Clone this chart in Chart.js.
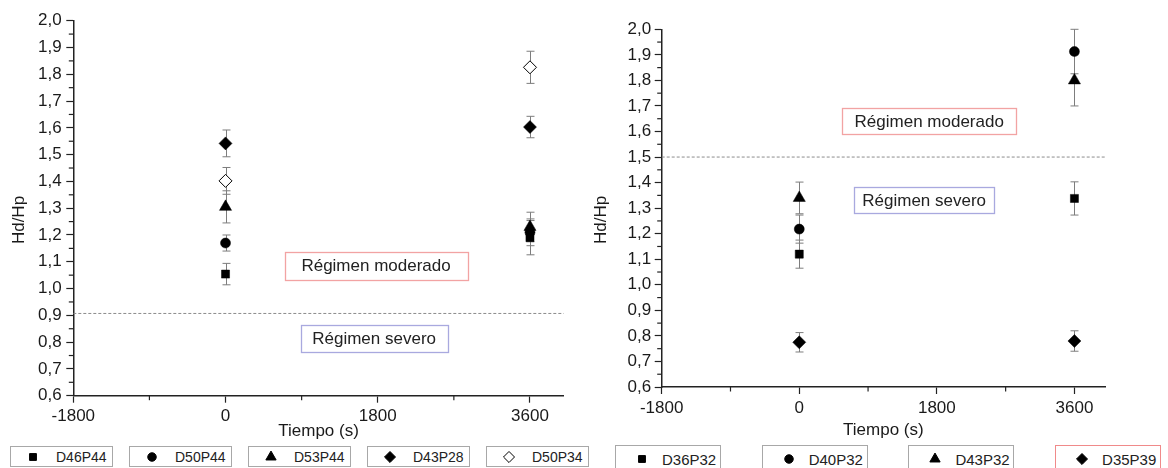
<!DOCTYPE html>
<html lang="es">
<head>
    <meta charset="UTF-8">
    <title>Hd/Hp frente a tiempo</title>
    <script src="https://cdn.jsdelivr.net/npm/chart.js"></script>
    <style>
        body {
            margin: 0;
            width: 1168px;
            height: 468px;
            overflow: hidden;
            background: #fff;
            font-family: 'Liberation Sans', Arial, sans-serif;
        }
        .panel {
            position: absolute;
            top: 0;
            height: 468px;
            overflow: hidden;
        }
        #panelIzq { left: 0; width: 592px; }
        #panelDer { left: 592px; width: 576px; }
        .panel canvas.grafico { position: absolute; left: 0; top: 0; }
        .leyenda-item {
            position: absolute;
            box-sizing: border-box;
            border: 1px solid #a8a8a8;
            background: #fff;
            color: #222;
            white-space: nowrap;
        }
        .leyenda-item canvas { position: absolute; top: 50%; transform: translate(-50%, -50%); }
        .leyenda-item span { position: absolute; top: 50%; transform: translateY(-50%); }
    </style>
</head>
<body>
    <div class="panel" id="panelIzq">
        <canvas class="grafico" id="graficoIzq" width="592" height="445"></canvas>
    </div>
    <div class="panel" id="panelDer">
        <canvas class="grafico" id="graficoDer" width="576" height="445"></canvas>
    </div>

    <script>
        Chart.defaults.font.family = "'Liberation Sans', Arial, sans-serif";
        Chart.defaults.color = '#222';

        // ---- datos comunes ----
        const tiempos = [0, 3600]; // s
        const xEtiquetas = ['-1800', '0', '1800', '3600'];
        const yEtiquetas = ['0,6', '0,7', '0,8', '0,9', '1,0', '1,1', '1,2', '1,3', '1,4', '1,5', '1,6', '1,7', '1,8', '1,9', '2,0'];

        // ---- panel izquierdo ----
        const seriesIzq = ['D46P44', 'D50P44', 'D53P44', 'D43P28', 'D50P34'];
        const hdD46P44 = [1.054, 1.19];
        const errD46P44 = [0.04, 0.064];
        const hdD50P44 = [1.17, 1.21];
        const errD50P44 = [0.03, 0.05];
        const hdD53P44 = [1.305, 1.23];
        const errD53P44 = [0.06, 0.055];
        const hdD43P28 = [1.542, 1.603];
        const errD43P28 = [0.05, 0.04];
        const hdD50P34 = [1.402, 1.826];
        const errD50P34 = [0.05, 0.06];
        const limiteIzq = 0.907;

        // ---- panel derecho ----
        const seriesDer = ['D36P32', 'D40P32', 'D43P32', 'D35P39'];
        const hdD36P32 = [1.12, 1.338];
        const errD36P32 = [0.055, 0.065];
        const hdD40P32 = [1.218, 1.913];
        const errD40P32 = [0.055, 0.087];
        const hdD43P32 = [1.34, 1.80];
        const errD43P32 = [0.062, 0.1];
        const hdD35P39 = [0.775, 0.78];
        const errD35P39 = [0.038, 0.04];
        const limiteDer = 1.5;

        // estilos de marcador
        const marcadores = {
            cuadrado: { pointStyle: 'rect', radius: 5.7, relleno: '#000' },
            circulo: { pointStyle: 'circle', radius: 5, relleno: '#000' },
            triangulo: { pointStyle: 'triangle', radius: 7, relleno: '#000' },
            rombo: { pointStyle: 'rectRot', radius: 6.5, relleno: '#000' },
            romboAbierto: { pointStyle: 'rectRot', radius: 6.5, relleno: '#fff' }
        };

        function marcasDesde(etiquetas) {
            const mayores = etiquetas.map(t => parseFloat(t.replace(',', '.')));
            const lista = [];
            mayores.forEach((v, i) => {
                lista.push({ value: v, etiqueta: etiquetas[i] });
                if (i < mayores.length - 1) lista.push({ value: (v + mayores[i + 1]) / 2, menor: true });
            });
            return lista;
        }

        function serie(nombre, valores, errores, estilo) {
            const m = marcadores[estilo];
            return {
                label: nombre,
                data: tiempos.map((t, i) => ({ x: t, y: valores[i] })),
                errores: errores,
                pointStyle: m.pointStyle,
                pointRadius: m.radius,
                pointBackgroundColor: m.relleno,
                pointBorderColor: '#000',
                pointBorderWidth: estilo === 'romboAbierto' ? 1 : 0.5,
                showLine: false
            };
        }

        function lineaLimite(valor) {
            return {
                type: 'line',
                label: 'limite',
                data: [{ x: -1800, y: valor }, { x: 4000, y: valor }],
                borderColor: '#8c8c8c',
                borderWidth: 1,
                borderDash: [3, 2],
                pointRadius: 0,
                fill: false
            };
        }

        // barras de error (detras de los marcadores)
        const barrasError = {
            id: 'barrasError',
            beforeDatasetsDraw(chart) {
                const { ctx, scales: { x, y } } = chart;
                ctx.save();
                ctx.strokeStyle = '#7d7d7d';
                ctx.lineWidth = 1;
                chart.data.datasets.forEach(ds => {
                    if (!ds.errores) return;
                    ds.data.forEach((p, i) => {
                        const e = ds.errores[i];
                        const px = Math.round(x.getPixelForValue(p.x)) + 0.5;
                        const y1 = y.getPixelForValue(p.y + e);
                        const y2 = y.getPixelForValue(p.y - e);
                        ctx.beginPath();
                        ctx.moveTo(px, y1); ctx.lineTo(px, y2);
                        ctx.moveTo(px - 4, y1); ctx.lineTo(px + 4, y1);
                        ctx.moveTo(px - 4, y2); ctx.lineTo(px + 4, y2);
                        ctx.stroke();
                    });
                });
                ctx.restore();
            }
        };

        // marcas menores, mas cortas que las mayores
        const marcasMenores = {
            id: 'marcasMenores',
            afterDraw(chart) {
                const ctx = chart.ctx;
                ctx.save();
                ctx.strokeStyle = '#222';
                ctx.lineWidth = 1.2;
                const sx = chart.scales.x, sy = chart.scales.y;
                sx.ticks.forEach(t => {
                    if (!t.menor) return;
                    const px = sx.getPixelForValue(t.value);
                    ctx.beginPath(); ctx.moveTo(px, sx.top); ctx.lineTo(px, sx.top + 4.5); ctx.stroke();
                });
                sy.ticks.forEach(t => {
                    if (!t.menor) return;
                    const py = sy.getPixelForValue(t.value);
                    ctx.beginPath(); ctx.moveTo(sy.right - 4.5, py); ctx.lineTo(sy.right, py); ctx.stroke();
                });
                ctx.restore();
            }
        };

        // recuadros de texto "Régimen ..."
        const recuadros = {
            id: 'recuadros',
            afterDatasetsDraw(chart, args, opts) {
                const { ctx, scales: { x, y } } = chart;
                (opts.items || []).forEach(a => {
                    const cx = x.getPixelForValue(a.x);
                    const cy = y.getPixelForValue(a.y);
                    const l = Math.round(cx - a.ancho / 2) + 0.5;
                    const t = Math.round(cy - a.alto / 2) + 0.5;
                    ctx.save();
                    ctx.fillStyle = '#fff';
                    ctx.fillRect(l, t, a.ancho, a.alto);
                    ctx.strokeStyle = a.borde;
                    ctx.lineWidth = 1.3;
                    ctx.strokeRect(l, t, a.ancho, a.alto);
                    ctx.font = "17px 'Liberation Sans', Arial, sans-serif";
                    ctx.fillStyle = '#222';
                    ctx.textAlign = 'center';
                    ctx.textBaseline = 'middle';
                    ctx.fillText(a.texto, cx, cy + 1);
                    ctx.restore();
                });
            }
        };

        function crearPanel(idCanvas, datasets, d) {
            const colorMarca = c => (c.tick && c.tick.menor) ? 'rgba(0,0,0,0)' : '#222';
            return new Chart(document.getElementById(idCanvas), {
                type: 'scatter',
                data: { datasets: datasets },
                plugins: [barrasError, marcasMenores, recuadros],
                options: {
                    responsive: false,
                    animation: false,
                    devicePixelRatio: 1,
                    layout: { padding: { top: d.arriba, right: d.derecha, left: 0, bottom: 0 } },
                    plugins: {
                        legend: { display: false },
                        tooltip: { enabled: false },
                        recuadros: { items: d.recuadros }
                    },
                    scales: {
                        x: {
                            type: 'linear',
                            min: -1800,
                            max: 4000,
                            bounds: 'data',
                            afterBuildTicks: s => { s.ticks = marcasDesde(xEtiquetas); },
                            afterFit: s => { s.height = d.altoX; },
                            ticks: {
                                autoSkip: false,
                                maxRotation: 0,
                                padding: d.padX,
                                font: { size: 17, lineHeight: 1 },
                                color: '#1a1a1a',
                                callback: (v, i, ts) => ts[i].menor ? '' : ts[i].etiqueta
                            },
                            grid: { drawOnChartArea: false, tickLength: 7, tickWidth: 1.2, tickColor: colorMarca },
                            border: { color: '#222', width: 1.5 },
                            title: {
                                display: true,
                                text: 'Tiempo (s)',
                                color: '#1a1a1a',
                                font: { size: 17, lineHeight: 1 },
                                padding: { top: 0, bottom: d.tituloX }
                            }
                        },
                        y: {
                            type: 'linear',
                            min: 0.6,
                            max: 2.0,
                            bounds: 'data',
                            afterBuildTicks: s => { s.ticks = marcasDesde(yEtiquetas); },
                            afterFit: s => { s.width = d.anchoY; },
                            ticks: {
                                autoSkip: false,
                                padding: d.padY,
                                font: { size: 17, lineHeight: 1 },
                                color: '#1a1a1a',
                                callback: (v, i, ts) => ts[i].menor ? '' : ts[i].etiqueta
                            },
                            grid: { drawOnChartArea: false, tickLength: 7, tickWidth: 1.2, tickColor: colorMarca },
                            border: { color: '#222', width: 1.5 },
                            title: {
                                display: true,
                                text: 'Hd/Hp' + '\u00a0'.repeat(5),
                                color: '#1a1a1a',
                                font: { size: 17, lineHeight: 1 },
                                padding: { top: d.tituloY, bottom: 0 }
                            }
                        }
                    }
                }
            });
        }

        function crearLeyenda(idPanel, nombres, estilos, disp) {
            const panel = document.getElementById(idPanel);
            const dibujar = Chart.helpers && Chart.helpers.drawPoint;
            nombres.forEach((nombre, i) => {
                const caja = document.createElement('div');
                caja.className = 'leyenda-item';
                caja.style.left = (disp.x0 + i * disp.paso) + 'px';
                caja.style.top = disp.arriba + 'px';
                caja.style.width = disp.ancho + 'px';
                caja.style.height = disp.alto + 'px';
                caja.style.fontSize = disp.fuente + 'px';
                if (disp.bordes && disp.bordes[i]) caja.style.borderColor = disp.bordes[i];

                const m = marcadores[estilos[i]];
                const lienzo = document.createElement('canvas');
                lienzo.width = 18; lienzo.height = 18;
                lienzo.style.left = disp.simbolo + 'px';
                const c = lienzo.getContext('2d');
                c.fillStyle = m.relleno;
                c.strokeStyle = '#000';
                c.lineWidth = 1;
                if (dibujar) {
                    dibujar(c, { pointStyle: m.pointStyle, radius: m.radius * 0.85, rotation: 0, borderWidth: 1 }, 9, 9);
                }
                caja.appendChild(lienzo);

                const txt = document.createElement('span');
                txt.textContent = nombre;
                txt.style.left = disp.texto + 'px';
                caja.appendChild(txt);
                panel.appendChild(caja);
            });
        }

        const estilosIzq = ['cuadrado', 'circulo', 'triangulo', 'rombo', 'romboAbierto'];
        const estilosDer = ['cuadrado', 'circulo', 'triangulo', 'rombo'];

        crearPanel('graficoIzq', [
            serie(seriesIzq[0], hdD46P44, errD46P44, estilosIzq[0]),
            serie(seriesIzq[1], hdD50P44, errD50P44, estilosIzq[1]),
            serie(seriesIzq[2], hdD53P44, errD53P44, estilosIzq[2]),
            serie(seriesIzq[3], hdD43P28, errD43P28, estilosIzq[3]),
            serie(seriesIzq[4], hdD50P34, errD50P34, estilosIzq[4]),
            lineaLimite(limiteIzq)
        ], {
            arriba: 20.7, derecha: 28.2, altoX: 49.3, anchoY: 73.3,
            padX: 5, padY: 4.6, tituloX: 4.8, tituloY: 10.8,
            recuadros: [
                { texto: 'Régimen moderado', x: 1780, y: 1.085, ancho: 183, alto: 28, borde: '#f2a3a3' },
                { texto: 'Régimen severo', x: 1757, y: 0.815, ancho: 147, alto: 27, borde: '#a9a9df' }
            ]
        });

        crearPanel('graficoDer', [
            serie(seriesDer[0], hdD36P32, errD36P32, estilosDer[0]),
            serie(seriesDer[1], hdD40P32, errD40P32, estilosDer[1]),
            serie(seriesDer[2], hdD43P32, errD43P32, estilosDer[2]),
            serie(seriesDer[3], hdD35P39, errD35P39, estilosDer[3]),
            lineaLimite(limiteDer)
        ], {
            arriba: 29.3, derecha: 63, altoX: 58, anchoY: 69.7,
            padX: 5.8, padY: 3.5, tituloX: 5.8, tituloY: 0.5,
            recuadros: [
                { texto: 'Régimen moderado', x: 1700, y: 1.64, ancho: 174, alto: 26, borde: '#f2a3a3' },
                { texto: 'Régimen severo', x: 1634, y: 1.332, ancho: 140, alto: 26, borde: '#a9a9df' }
            ]
        });

        crearLeyenda('panelIzq', seriesIzq, estilosIzq,
            { x0: 10, paso: 119, arriba: 446, ancho: 103, alto: 21, fuente: 14, simbolo: 22, texto: 45 });
        crearLeyenda('panelDer', seriesDer, estilosDer,
            { x0: 23, paso: 146.7, arriba: 445, ancho: 106, alto: 27, fuente: 15, simbolo: 26, texto: 46,
              bordes: [null, null, null, '#f08a8a'] });
    </script>
</body>
</html>
